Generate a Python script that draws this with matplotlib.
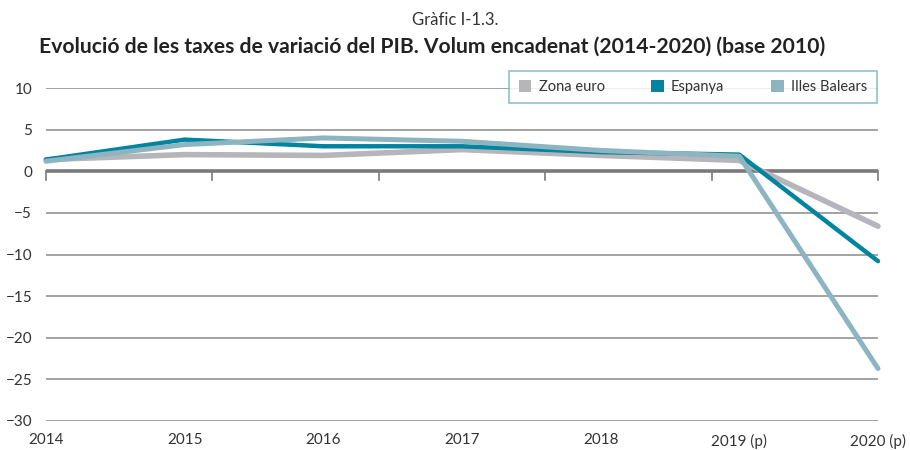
import matplotlib

matplotlib.use("Agg")
import matplotlib.pyplot as plt
from matplotlib.patches import Patch

years = ["2014", "2015", "2016", "2017", "2018", "2019 (p)", "2020 (p)"]
zona_euro = [1.4, 2.0, 1.9, 2.6, 1.9, 1.3, -6.6]
espanya = [1.4, 3.8, 3.0, 3.0, 2.3, 2.0, -10.8]
illes_balears = [1.2, 3.2, 4.0, 3.6, 2.5, 1.8, -23.7]

C_EURO = "#b5b5ba"
C_ESP = "#00849f"
C_IB = "#8cb5c1"
TXT = "#333333"

plt.rcParams["font.family"] = ["Lato", "DejaVu Sans"]

fig = plt.figure(figsize=(9.1, 4.5), dpi=100)
ax = fig.add_axes([46 / 910, 1 - 421 / 450, 832 / 910, 333 / 450])

x = list(range(len(years)))

# grid
for v in range(-30, 11, 5):
    if v == 0:
        continue
    ax.axhline(v, color="#8a8a8a", lw=1.1, zorder=1)
ax.axhline(0, color="#7a7a7a", lw=2.6, zorder=1)

# tick marks on the zero line (6 divisions, as in the original)
for i in range(6):
    t = i * 6 / 5
    ax.plot([t, t], [0, -1.1], color="#7a7a7a", lw=1.2, clip_on=False, zorder=1)

ax.plot(x, zona_euro, color=C_EURO, lw=4.0, solid_capstyle="round", clip_on=False, zorder=3)
ax.plot(x, espanya, color=C_ESP, lw=3.2, solid_capstyle="round", clip_on=False, zorder=4)
ax.plot(x, illes_balears, color=C_IB, lw=3.6, solid_capstyle="round", clip_on=False, zorder=5)

ax.set_xlim(0, 6)
ax.set_ylim(-30, 10)
ax.set_yticks(range(-30, 11, 5))
ax.set_xticks(x)
ax.set_xticklabels(years)
ax.tick_params(axis="both", length=0, colors=TXT, labelsize=11)
ax.tick_params(axis="y", pad=10)
ax.tick_params(axis="x", pad=9)
for s in ax.spines.values():
    s.set_visible(False)

handles = [
    Patch(facecolor=C_EURO, edgecolor="none"),
    Patch(facecolor=C_ESP, edgecolor="none"),
    Patch(facecolor=C_IB, edgecolor="none"),
]
leg = fig.legend(
    handles,
    ["Zona euro", "Espanya", "Illes Balears"],
    loc="center",
    bbox_to_anchor=(693 / 910, 1 - 87 / 450),
    ncol=3,
    frameon=True,
    fancybox=False,
    fontsize=10.5,
    handlelength=0.85,
    handleheight=0.85,
    handletextpad=0.5,
    columnspacing=3.2,
    borderaxespad=0,
    borderpad=0.65,
    labelcolor=TXT,
)
leg.get_frame().set_edgecolor("#6fb3c2")
leg.get_frame().set_linewidth(1.2)
leg.set_zorder(10)

fig.text(0.5, 1 - 20 / 450, "Gràfic I-1.3.", ha="center", va="center", fontsize=12, color=TXT)
fig.text(
    0.475, 1 - 47 / 450,
    "Evolució de les taxes de variació del PIB. Volum encadenat (2014-2020) (base 2010)",
    ha="center", va="center", fontsize=15.2, fontweight="bold", color="#222222",
)

fig.savefig("out.png", dpi=100)
